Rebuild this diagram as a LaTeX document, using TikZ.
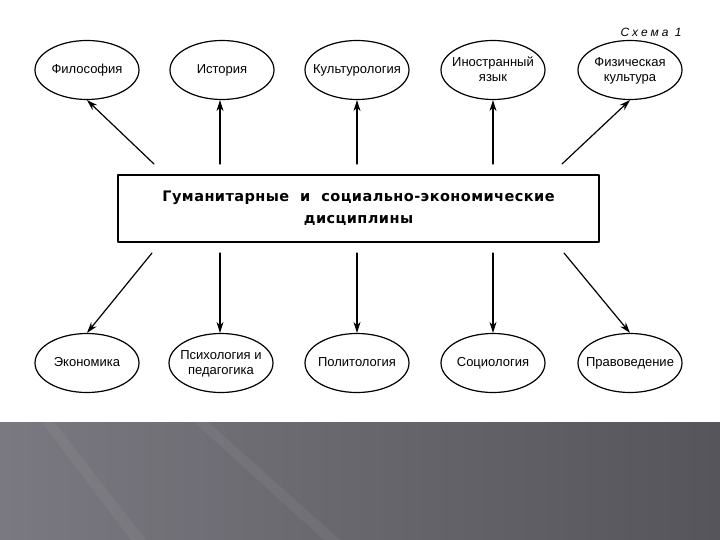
\documentclass[tikz,border=0pt]{standalone}
\usepackage{fontspec}
\setmainfont{Liberation Sans}
\newfontfamily\titlefont{DejaVu Sans}
\usetikzlibrary{shapes.geometric, arrows.meta}
\definecolor{bandL}{HTML}{7A7880}
\definecolor{bandR}{HTML}{56555B}
\tikzset{
  disc/.style={draw, ellipse, line width=1.2pt, minimum width=104pt, minimum height=59pt,
    inner xsep=-10pt, inner ysep=0pt, align=center, font=\fontsize{13}{15}\selectfont},
  single/.style={text height=9.5pt, text depth=2.5pt},
  double/.style={text height=25pt, text depth=2pt},
  main/.style={draw, rectangle, line width=1.3pt, minimum width=481pt, minimum height=67pt,
    align=center, font=\titlefont\fontsize{14.5}{22}\selectfont\bfseries\addfontfeatures{LetterSpace=3}},
  link/.style={-{Stealth[length=11pt, width=7pt]}, line width=1.2pt}
}
\begin{document}
\begin{tikzpicture}[x=1pt, y=-1pt, line join=round, line cap=round]
\useasboundingbox (0,0) rectangle (720,540);
% background band
\fill[white] (0,0) rectangle (720,422);
\shade[left color=bandL, right color=bandR] (0,422) rectangle (720,540);
\fill[white, opacity=0.05] (42,422) -- (54,422) -- (146,540) -- (131,540) -- cycle;
\fill[white, opacity=0.05] (194,422) -- (208,422) -- (340,540) -- (324,540) -- cycle;
% nodes
\node[main] (gum) at (358.5,208.5) {Гуманитарные \ и \ социально-экономические\\дисциплины};
\node[font=\fontsize{12}{14}\selectfont\itshape\addfontfeatures{LetterSpace=25}] (scheme) at (651,32) {Схема 1};
\node[disc, single] (fil) at (87,70) {Философия};
\node[disc, single] (ist) at (222,70) {История};
\node[disc, single] (kul) at (357,70) {Культурология};
\node[disc, double] (ino) at (493,70) {Иностранный\\язык};
\node[disc, double] (fiz) at (630,70) {Физическая\\культура};
\node[disc, single] (eko) at (87,363) {Экономика};
\node[disc, double] (psi) at (221,363) {Психология и\\педагогика};
\node[disc, single] (pol) at (357,363) {Политология};
\node[disc, single] (soc) at (493,363) {Социология};
\node[disc, single] (pra) at (630,363) {Правоведение};
% free ends
\coordinate (u1) at (154,164);
\coordinate (u2) at (220,164);
\coordinate (u3) at (357,164);
\coordinate (u4) at (493,164);
\coordinate (u5) at (562,164);
\coordinate (d1) at (152,253);
\coordinate (d2) at (220,253);
\coordinate (d3) at (357,253);
\coordinate (d4) at (493,253);
\coordinate (d5) at (564,253);
% arrows
\draw[link] (u1) -- (fil.south);
\draw[link] (u2) -- (ist.south -| u2);
\draw[link] (u3) -- (kul.south);
\draw[link] (u4) -- (ino.south);
\draw[link] (u5) -- (fiz.south);
\draw[link] (d1) -- (eko.north);
\draw[link] (d2) -- (psi.north -| d2);
\draw[link] (d3) -- (pol.north);
\draw[link] (d4) -- (soc.north);
\draw[link] (d5) -- (pra.north);
\end{tikzpicture}
\end{document}
